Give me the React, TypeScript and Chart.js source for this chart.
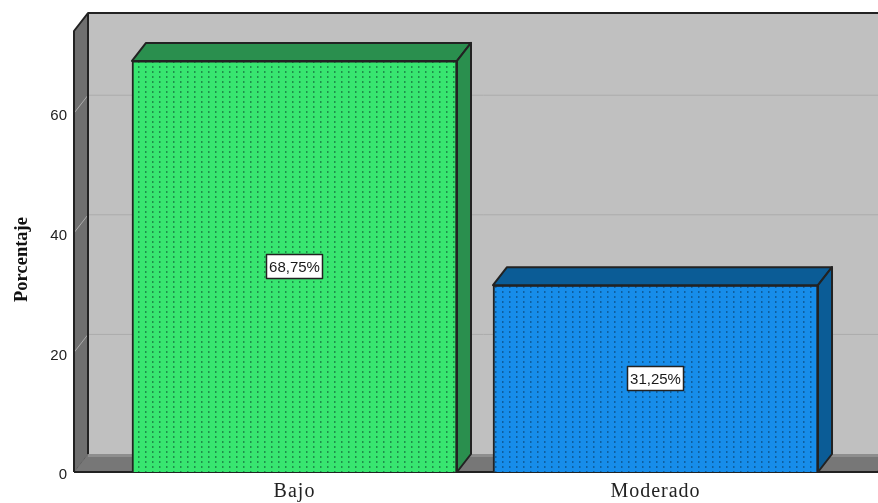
import React, { useEffect, useRef } from "react";
import { Chart, registerables } from "chart.js";

Chart.register(...registerables);

// Response levels and their share of the sample, in percent
const categories = ["Bajo", "Moderado"];
const percentages = [68.75, 31.25];
const valueLabels = ["68,75%", "31,25%"];
const yTicks = [0, 20, 40, 60];
const yAxisTitle = "Porcentaje";

// Colours per bar: front face, dotted texture, top and side faces
const frontColors = ["#38E670", "#178DEA"];
const dotColors = ["#1F8F4B", "#0F5F9E"];
const shadeColors = ["#2A8F4E", "#0B5C96"];

// Offset of the back of the 3D box from its front
const DEPTH_X = 14;
const DEPTH_Y = 18;
const INK = "#222222";

function dottedFill(base: string, dot: string): CanvasPattern | string {
  const tile = document.createElement("canvas");
  tile.width = 7;
  tile.height = 5;
  const ctx = tile.getContext("2d");
  if (!ctx) return base;
  ctx.fillStyle = base;
  ctx.fillRect(0, 0, 7, 5);
  ctx.fillStyle = dot;
  ctx.fillRect(5, 1, 1.5, 2);
  return ctx.createPattern(tile, "repeat") ?? base;
}

function polygon(
  ctx: CanvasRenderingContext2D,
  pts: number[][],
  fill: string,
  stroke?: string,
  lineWidth = 2
) {
  ctx.beginPath();
  pts.forEach(([x, y], i) => (i ? ctx.lineTo(x, y) : ctx.moveTo(x, y)));
  ctx.closePath();
  ctx.fillStyle = fill;
  ctx.fill();
  if (stroke) {
    ctx.strokeStyle = stroke;
    ctx.lineWidth = lineWidth;
    ctx.lineJoin = "round";
    ctx.stroke();
  }
}

// Back wall, side wall, floor and the gridlines that run across them
const boxPlugin = {
  id: "box3d",
  beforeDatasetsDraw(chart: any) {
    const { ctx, chartArea: a, scales } = chart;
    const { left: l, right: r, top: t, bottom: b } = a;
    ctx.save();
    polygon(ctx, [[l + DEPTH_X, t - DEPTH_Y], [r + DEPTH_X, t - DEPTH_Y], [r + DEPTH_X, b - DEPTH_Y], [l + DEPTH_X, b - DEPTH_Y]], "#C0C0C0");
    polygon(ctx, [[l, t], [l + DEPTH_X, t - DEPTH_Y], [l + DEPTH_X, b - DEPTH_Y], [l, b]], "#6F6F6F");
    polygon(ctx, [[l, b], [l + DEPTH_X, b - DEPTH_Y], [r + DEPTH_X, b - DEPTH_Y], [r, b]], "#777777");

    ctx.fillStyle = "#8E8E8E";
    ctx.fillRect(l + DEPTH_X, b - DEPTH_Y, r - l, 3);

    ctx.lineWidth = 1;
    ctx.strokeStyle = "#ABABAB";
    for (const v of yTicks.slice(1)) {
      const y = scales.y.getPixelForValue(v);
      ctx.beginPath();
      ctx.moveTo(l, y);
      ctx.lineTo(l + DEPTH_X, y - DEPTH_Y);
      ctx.lineTo(r + DEPTH_X, y - DEPTH_Y);
      ctx.stroke();
    }
    ctx.strokeStyle = "#5F5F5F";
    ctx.beginPath();
    ctx.moveTo(l, b);
    ctx.lineTo(l + DEPTH_X, b - DEPTH_Y);
    ctx.stroke();

    ctx.strokeStyle = INK;
    ctx.lineWidth = 2;
    ctx.lineJoin = "round";
    ctx.beginPath();
    ctx.moveTo(l, b);
    ctx.lineTo(l, t);
    ctx.lineTo(l + DEPTH_X, t - DEPTH_Y);
    ctx.lineTo(r + DEPTH_X, t - DEPTH_Y);
    ctx.moveTo(l + DEPTH_X, t - DEPTH_Y);
    ctx.lineTo(l + DEPTH_X, b - DEPTH_Y);
    ctx.moveTo(l, b);
    ctx.lineTo(r, b);
    ctx.lineTo(r + DEPTH_X, b - DEPTH_Y);
    ctx.stroke();

    // Axis title sits a little below the middle of the axis
    ctx.translate(22, (t + b) / 2 + 8);
    ctx.rotate(-Math.PI / 2);
    ctx.fillStyle = "#111111";
    ctx.font = 'bold 18.5px "Liberation Serif"';
    ctx.textAlign = "center";
    ctx.textBaseline = "middle";
    ctx.fillText(yAxisTitle, 0, 0);
    ctx.restore();
  },
  afterDatasetsDraw(chart: any) {
    const { ctx } = chart;
    const bars = chart.getDatasetMeta(0).data;
    ctx.save();
    bars.forEach((bar: any, i: number) => {
      const half = bar.width / 2;
      const x0 = bar.x - half;
      const x1 = bar.x + half;
      polygon(ctx, [[x0, bar.y], [x0 + DEPTH_X, bar.y - DEPTH_Y], [x1 + DEPTH_X, bar.y - DEPTH_Y], [x1, bar.y]], shadeColors[i], INK);
      polygon(ctx, [[x1, bar.y], [x1 + DEPTH_X, bar.y - DEPTH_Y], [x1 + DEPTH_X, bar.base - DEPTH_Y], [x1, bar.base]], shadeColors[i], INK);

      // Value tag in the middle of the front face
      const cy = (bar.y + bar.base) / 2;
      ctx.fillStyle = "#FFFFFF";
      ctx.strokeStyle = INK;
      ctx.lineWidth = 1.5;
      ctx.fillRect(bar.x - 28, cy - 12, 56, 24);
      ctx.strokeRect(bar.x - 28, cy - 12, 56, 24);
      ctx.fillStyle = "#1A1A1A";
      ctx.font = '15px "Liberation Sans"';
      ctx.textAlign = "center";
      ctx.textBaseline = "middle";
      ctx.fillText(valueLabels[i], bar.x, cy + 1);
    });
    ctx.restore();
    // Category labels are spaced out; they draw right after this hook
    ctx.letterSpacing = "1px";
  },
  afterDraw(chart: any) {
    chart.ctx.letterSpacing = "0px";
  },
};

export default function App() {
  const canvasRef = useRef<HTMLCanvasElement>(null);

  useEffect(() => {
    document.body.style.margin = "0";
    const canvas = canvasRef.current;
    if (!canvas) return;
    const chart = new Chart(canvas, {
      type: "bar",
      data: {
        datasets: [
          {
            data: percentages.map((y, x) => ({ x, y })),
            backgroundColor: frontColors.map((c, i) => dottedFill(c, dotColors[i])),
            borderColor: INK,
            borderWidth: 2,
            barThickness: 325,
          },
        ],
      },
      options: {
        responsive: false,
        animation: false,
        layout: { padding: { top: 31, left: 0, right: 0, bottom: 0 } },
        plugins: { legend: { display: false }, tooltip: { enabled: false } },
        scales: {
          x: {
            type: "linear",
            offset: false,
            min: -0.6108,
            max: 1.6163,
            grid: { display: false, drawTicks: false, offset: false },
            border: { display: false },
            afterBuildTicks: (s: any) => {
              s.ticks = categories.map((_, value) => ({ value }));
            },
            afterFit: (s: any) => {
              s.height = 31;
            },
            ticks: {
              z: 1,
              autoSkip: false,
              maxRotation: 0,
              padding: 8,
              color: "#222222",
              font: { family: '"Liberation Serif"', size: 20 },
              callback: (v: any) => categories[v] ?? "",
            },
          },
          y: {
            min: 0,
            max: 73.75,
            grid: { display: false, drawTicks: false },
            border: { display: false },
            afterFit: (s: any) => {
              s.width = 74;
            },
            afterBuildTicks: (s: any) => {
              s.ticks = yTicks.map((value) => ({ value }));
            },
            ticks: {
              padding: 7,
              labelOffset: 3,
              color: "#222222",
              font: { family: '"Liberation Sans"', size: 15 },
            },
          },
        },
      },
      plugins: [boxPlugin],
    } as any);
    return () => chart.destroy();
  }, []);

  return <canvas ref={canvasRef} width={878} height={503} style={{ display: "block" }} />;
}
